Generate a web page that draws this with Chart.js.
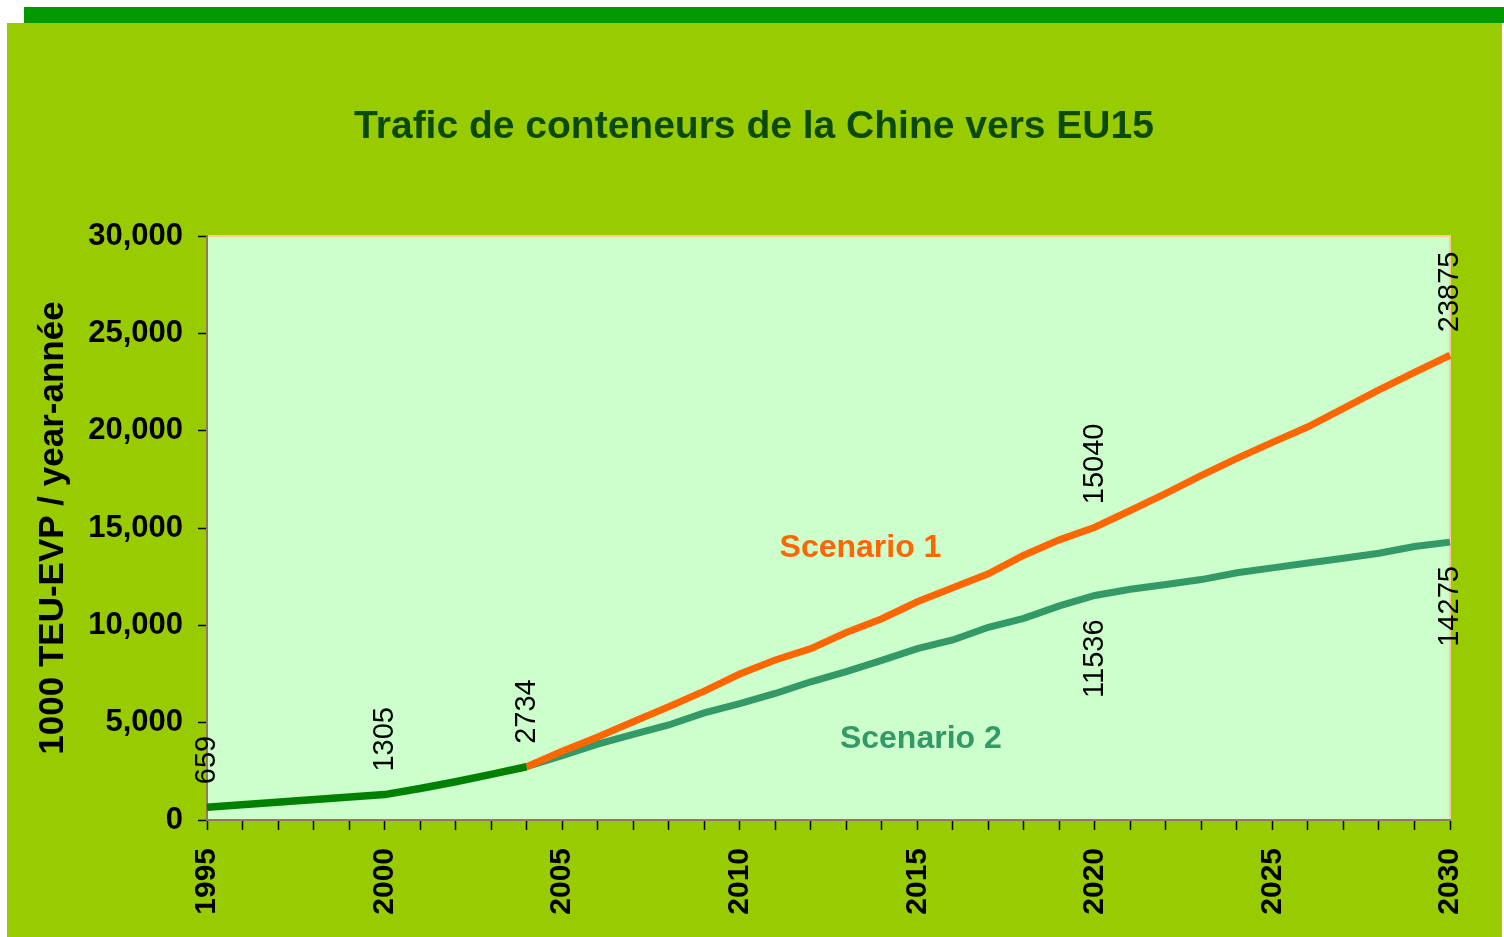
<!DOCTYPE html>
<html>
<head>
<meta charset="utf-8">
<script src="https://cdn.jsdelivr.net/npm/chart.js@4.4.1/dist/chart.umd.min.js"></script>
<style>
  body { margin: 0; background: #ffffff; }
  #topBar { position: absolute; left: 24px; top: 7px; width: 1480px; height: 16px; background: #009900; }
  #panel { position: absolute; left: 7px; top: 23px; width: 1495px; height: 914px; background: #99CC00; }
  #chart { position: absolute; left: 0; top: 0; }
</style>
</head>
<body>
<div id="topBar"></div>
<div id="panel"></div>
<canvas id="chart" width="1504" height="937"></canvas>
<script>
// Trafic de conteneurs Chine -> EU15 (1000 TEU-EVP / an)

const years = ['1995', '1996', '1997', '1998', '1999', '2000', '2001', '2002', '2003', '2004',
    '2005', '2006', '2007', '2008', '2009', '2010', '2011', '2012', '2013', '2014',
    '2015', '2016', '2017', '2018', '2019', '2020', '2021', '2022', '2023', '2024',
    '2025', '2026', '2027', '2028', '2029', '2030'];

// historical series (1996-1999 not marked: straight segment in the source)
const historique = [659, null, null, null, null, 1305, 1620, 1967, 2340, 2734,
    null, null, null, null, null, null, null, null, null, null,
    null, null, null, null, null, null, null, null, null, null,
    null, null, null, null, null, null];

const scenario1 = [null, null, null, null, null, null, null, null, null, 2734,
    3530, 4260, 5050, 5820, 6620, 7500, 8220, 8800, 9630, 10340,
    11210, 11930, 12650, 13600, 14390, 15040, 15900, 16780, 17700, 18580,
    19400, 20200, 21150, 22090, 23000, 23875];

const scenario2 = [null, null, null, null, null, null, null, null, null, 2734,
    3300, 3900, 4400, 4880, 5500, 5980, 6500, 7100, 7620, 8200,
    8800, 9250, 9900, 10360, 11000, 11536, 11850, 12100, 12350, 12700,
    12950, 13200, 13450, 13700, 14050, 14275];

const yTicks = [0, 5000, 10000, 15000, 20000, 25000, 30000];

const chartTitle = 'Trafic de conteneurs de la Chine vers EU15';

// which points get a value label, and on which side of the line
const valueLabels = [
    { dataset: 0, year: '1995', side: 'above' },
    { dataset: 0, year: '2000', side: 'above' },
    { dataset: 0, year: '2004', side: 'above' },
    { dataset: 1, year: '2020', side: 'above' },
    { dataset: 1, year: '2030', side: 'above' },
    { dataset: 2, year: '2020', side: 'below' },
    { dataset: 2, year: '2030', side: 'below' }
];

// in-chart series names, anchored in data units (year, value)
const seriesNames = [
    { text: 'Scenario 1', year: 2013.4, value: 13950, color: '#FF6600' },
    { text: 'Scenario 2', year: 2015.1, value: 4160, color: '#339966' }
];

const FONT = "'Liberation Sans', Arial, sans-serif";

const plotBackground = {
    id: 'plotBackground',
    beforeDraw(chart) {
        const { ctx, chartArea: a } = chart;
        ctx.save();
        ctx.fillStyle = '#CCFFCC';
        ctx.fillRect(a.left, a.top, a.right - a.left, a.bottom - a.top);
        ctx.strokeStyle = '#FFCC99';
        ctx.lineWidth = 2;
        ctx.beginPath();
        ctx.moveTo(a.left, a.top);
        ctx.lineTo(a.right, a.top);
        ctx.lineTo(a.right, a.bottom);
        ctx.stroke();

        // chart title
        ctx.font = 'bold 39px ' + FONT;
        ctx.fillStyle = '#0C4A0C';
        ctx.textAlign = 'center';
        ctx.textBaseline = 'middle';
        ctx.fillText(chartTitle, 754, 127);
        ctx.restore();
    }
};

const pointLabels = {
    id: 'pointLabels',
    afterDatasetsDraw(chart) {
        const { ctx, scales } = chart;
        ctx.save();
        ctx.font = '29px ' + FONT;
        ctx.fillStyle = '#000000';
        ctx.textBaseline = 'middle';
        valueLabels.forEach(l => {
            const i = years.indexOf(l.year);
            const v = chart.data.datasets[l.dataset].data[i];
            const x = scales.x.getPixelForValue(i);
            const y = scales.y.getPixelForValue(v);
            ctx.save();
            if (l.side === 'above') {
                ctx.translate(x, y - 23);
                ctx.rotate(-Math.PI / 2);
                ctx.textAlign = 'left';
            } else {
                ctx.translate(x, y + 24);
                ctx.rotate(-Math.PI / 2);
                ctx.textAlign = 'right';
            }
            ctx.fillText(String(v), 0, 0);
            ctx.restore();
        });

        ctx.font = 'bold 32px ' + FONT;
        ctx.textAlign = 'center';
        seriesNames.forEach(s => {
            ctx.fillStyle = s.color;
            ctx.fillText(s.text, scales.x.getPixelForValue(s.year - 1995), scales.y.getPixelForValue(s.value));
        });
        ctx.restore();
    }
};

new Chart(document.getElementById('chart'), {
    type: 'line',
    data: {
        labels: years,
        datasets: [{
            label: 'Historique',
            data: historique,
            borderColor: '#008000',
            borderWidth: 7.5,
            pointRadius: 0,
            spanGaps: true,
            tension: 0
        }, {
            label: 'Scenario 1',
            data: scenario1,
            borderColor: '#FF6600',
            borderWidth: 7,
            pointRadius: 0,
            tension: 0
        }, {
            label: 'Scenario 2',
            data: scenario2,
            borderColor: '#339966',
            borderWidth: 7,
            pointRadius: 0,
            tension: 0
        }]
    },
    options: {
        responsive: false,
        animation: false,
        layout: { padding: { left: 0, right: 53, top: 236, bottom: 0 } },
        plugins: {
            legend: { display: false },
            tooltip: { enabled: false },
            title: { display: false }
        },
        scales: {
            x: {
                offset: false,
                afterFit(scale) { scale.height = 117; },
                grid: {
                    display: true,
                    drawOnChartArea: false,
                    drawTicks: true,
                    tickLength: 10,
                    tickColor: '#000000',
                    tickWidth: 1.5
                },
                border: { display: true, color: '#8C7B5C', width: 2 },
                ticks: {
                    autoSkip: false,
                    minRotation: 90,
                    maxRotation: 90,
                    padding: 18,
                    color: '#000000',
                    font: { family: FONT, size: 30, weight: 'bold' },
                    callback(value) {
                        const y = Number(years[value]);
                        return y % 5 === 0 ? years[value] : '';
                    }
                }
            },
            y: {
                min: 0,
                max: 30000,
                afterFit(scale) { scale.width = 207; },
                afterBuildTicks(scale) { scale.ticks = yTicks.map(v => ({ value: v })); },
                grid: {
                    display: true,
                    drawOnChartArea: false,
                    drawTicks: true,
                    tickLength: 9,
                    tickColor: '#000000',
                    tickWidth: 1.5
                },
                border: { display: true, color: '#8C7B5C', width: 2 },
                ticks: {
                    padding: 15,
                    color: '#000000',
                    font: { family: FONT, size: 31, weight: 'bold' },
                    callback(value) { return value.toLocaleString('en-US'); }
                },
                title: {
                    display: true,
                    text: '1000 TEU-EVP / year-année',
                    color: '#000000',
                    font: { family: FONT, size: 35, weight: 'bold' },
                    padding: { top: 32, bottom: 0 }
                }
            }
        }
    },
    plugins: [plotBackground, pointLabels]
});
</script>
</body>
</html>
